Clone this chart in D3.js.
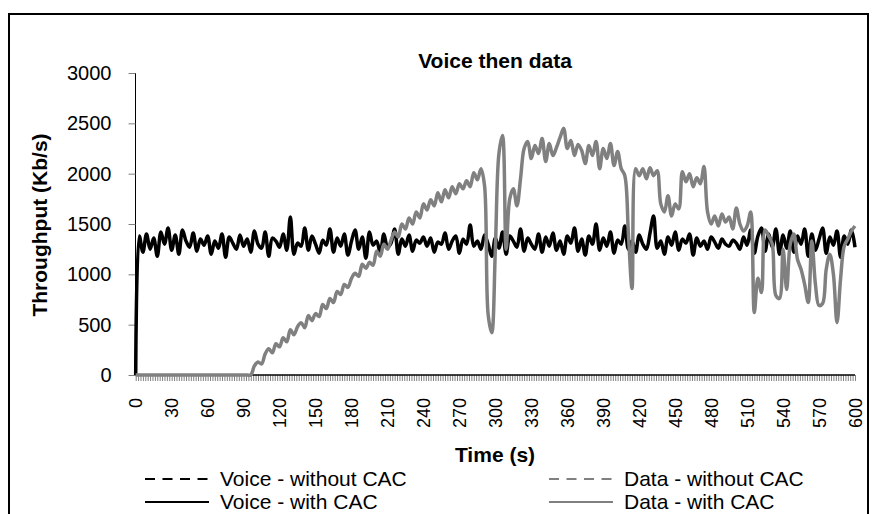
<!DOCTYPE html>
<html><head><meta charset="utf-8">
<script src="https://cdn.jsdelivr.net/npm/d3@7"></script>
<style>body{margin:0;background:#fff}svg{display:block;font-family:"Liberation Sans",Arial,sans-serif}</style>
</head><body><svg id="c" width="872" height="514"></svg>
<script>
// Time step of samples (s)
const step = 3;
const yTicks = [0, 500, 1000, 1500, 2000, 2500, 3000];
const xTickLabels = [0,30,60,90,120,150,180,210,240,270,300,330,360,390,420,450,480,510,540,570,600];
const seriesNames = ["Voice - without CAC", "Voice - with CAC", "Data - without CAC", "Data - with CAC"];

// Voice - with CAC (Kb/s), one value every 3 s from t=0
const voiceWithCAC = [0,
 1380,1220,1400,1250,1360,1180,1420,1300,1460,1240,1390,1200,1440,1330,1270,1410,1230,1350,1290,1380,
 1200,1330,1260,1400,1170,1370,1310,1250,1390,1280,1350,1220,1430,1300,1260,1420,1180,1360,1330,1270,
 1400,1240,1570,1200,1310,1280,1460,1240,1380,1300,1210,1340,1290,1450,1220,1360,1280,1400,1190,1330,
 1440,1250,1370,1160,1420,1290,1330,1210,1400,1270,1310,1450,1200,1350,1280,1390,1230,1340,1310,1370,
 1280,1360,1220,1320,1300,1410,1250,1330,1380,1210,1350,1300,1490,1280,1330,1250,1390,1300,1180,1360,
 1260,1420,1200,1380,1330,1270,1450,1230,1360,1300,1250,1400,1220,1370,1280,1410,1240,1330,1200,1380,
 1310,1460,1230,1350,1190,1380,1300,1500,1240,1360,1280,1420,1210,1340,1300,1480,1250,1330,1220,1390,
 1300,1250,1410,1580,1260,1330,1200,1370,1290,1420,1240,1350,1310,1400,1190,1360,1280,1330,1250,1370,
 1320,1260,1350,1300,1280,1340,1310,1250,1370,1290,1440,1210,1380,1460,1230,1400,1270,1450,1200,1390,
 1260,1430,1220,1380,1300,1450,1180,1400,1240,1350,1460,1210,1370,1290,1430,1170,1380,1300,1440,1270];

// Data - with CAC (Kb/s), one value every 3 s from t=0
const dataWithCAC = [
 0,0,0,0,0,0,0,0,0,0,
 0,0,0,0,0,0,0,0,0,0,
 0,0,0,0,0,0,0,0,0,0,
 0,0,0,90,130,110,210,260,220,310,
 280,370,330,450,400,480,520,470,590,540,
 610,580,700,660,760,720,830,800,900,870,
 960,1010,980,1100,1060,1120,1090,1230,1180,1300,
 1250,1340,1420,1370,1500,1450,1560,1500,1620,1560,
 1700,1640,1740,1680,1810,1720,1840,1760,1870,1800,
 1900,1850,1930,1870,2010,1940,2050,1880,600,420,
 1250,2200,2380,1250,1750,1850,1680,1950,2250,2320,
 2150,2280,2200,2350,2120,2300,2180,2260,2360,2450,
 2250,2330,2180,2290,2230,2100,2280,2180,2320,2050,
 2250,2150,2300,2080,2220,2050,1980,1400,860,2050,
 1980,2050,1950,2060,1980,2030,1700,1620,1780,1580,
 1700,1650,2020,1920,2000,1870,1960,1900,2070,1620,
 1500,1580,1480,1600,1520,1570,1450,1660,1500,1430,
 1480,1620,620,960,820,1440,1380,1300,790,760,
 1250,850,1300,1400,1150,1050,900,720,1330,900,
 690,710,1050,1200,1000,520,960,1280,1350,1430,
 1480];

const svg = d3.select("#c");
// outer frame
svg.append("rect").attr("x",9).attr("y",14).attr("width",859).attr("height",520)
  .attr("fill","none").attr("stroke","#000").attr("stroke-width",2);

const x = d3.scaleLinear().domain([0,600]).range([135.7,855]);
const y = d3.scaleLinear().domain([0,3000]).range([375,73]);

// minor category ticks along x axis
const xMinor = d3.axisBottom(x).tickValues(d3.range(0,601,2)).tickSize(6).tickFormat("");
const gm = svg.append("g").attr("transform","translate(0,375)").call(xMinor);
gm.select(".domain").remove();
gm.selectAll("line").attr("stroke","#808080").attr("stroke-width",1);

// y axis
const ya = svg.append("g").attr("transform","translate(135.5,0)")
  .call(d3.axisLeft(y).tickValues(yTicks).tickSize(7).tickPadding(17).tickFormat(d3.format("d")));
ya.select(".domain").attr("stroke","#000").attr("d","M0,73V375");
ya.selectAll(".tick line").attr("stroke","#808080");
ya.selectAll("text").attr("font-size",20).attr("fill","#000")
  .attr("font-family","Liberation Sans, Arial, sans-serif");

// x axis line
svg.append("line").attr("x1",135.5).attr("x2",855).attr("y1",375).attr("y2",375)
  .attr("stroke","#000").attr("stroke-width",1.5);

// x labels
svg.append("g").selectAll("text").data(xTickLabels).join("text")
  .attr("transform", d => `translate(${x(d)+6.5},398) rotate(-90)`)
  .attr("text-anchor","end").attr("font-size",18).text(d => d);

const line = d3.line().x((d,i)=>x(i*step)).y(d=>y(d)).curve(d3.curveCatmullRom.alpha(0.5));

svg.append("path").datum(voiceWithCAC).attr("d",line)
  .attr("fill","none").attr("stroke","#000").attr("stroke-width",3.5).attr("stroke-linejoin","round");
svg.append("path").datum(dataWithCAC).attr("d",line)
  .attr("fill","none").attr("stroke","#808080").attr("stroke-width",3.5).attr("stroke-linejoin","round");

// titles
svg.append("text").attr("x",495).attr("y",68).attr("text-anchor","middle")
  .attr("font-size",21).attr("font-weight","bold").text("Voice then data");
svg.append("text").attr("x",495).attr("y",462).attr("text-anchor","middle")
  .attr("font-size",21).attr("font-weight","bold").text("Time (s)");
svg.append("text").attr("transform","translate(47,225) rotate(-90)").attr("text-anchor","middle")
  .attr("font-size",21).attr("font-weight","bold").text("Throughput (Kb/s)");

// legend
const leg = [
  {name:seriesNames[0], col:"#000", dash:"10,7.5", lx:145, ly:479},
  {name:seriesNames[1], col:"#000", dash:null, lx:145, ly:502},
  {name:seriesNames[2], col:"#808080", dash:"10,7.5", lx:549, ly:479},
  {name:seriesNames[3], col:"#808080", dash:null, lx:549, ly:502}
];
const lg = svg.append("g").selectAll("g").data(leg).join("g");
lg.append("line").attr("x1",d=>d.lx).attr("x2",d=>d.lx+64).attr("y1",d=>d.ly).attr("y2",d=>d.ly)
  .attr("stroke",d=>d.col).attr("stroke-width",2.2).attr("stroke-dasharray",d=>d.dash);
lg.append("text").attr("x",d=>d.lx+75).attr("y",d=>d.ly+7).attr("font-size",21).text(d=>d.name);
</script></body></html>
